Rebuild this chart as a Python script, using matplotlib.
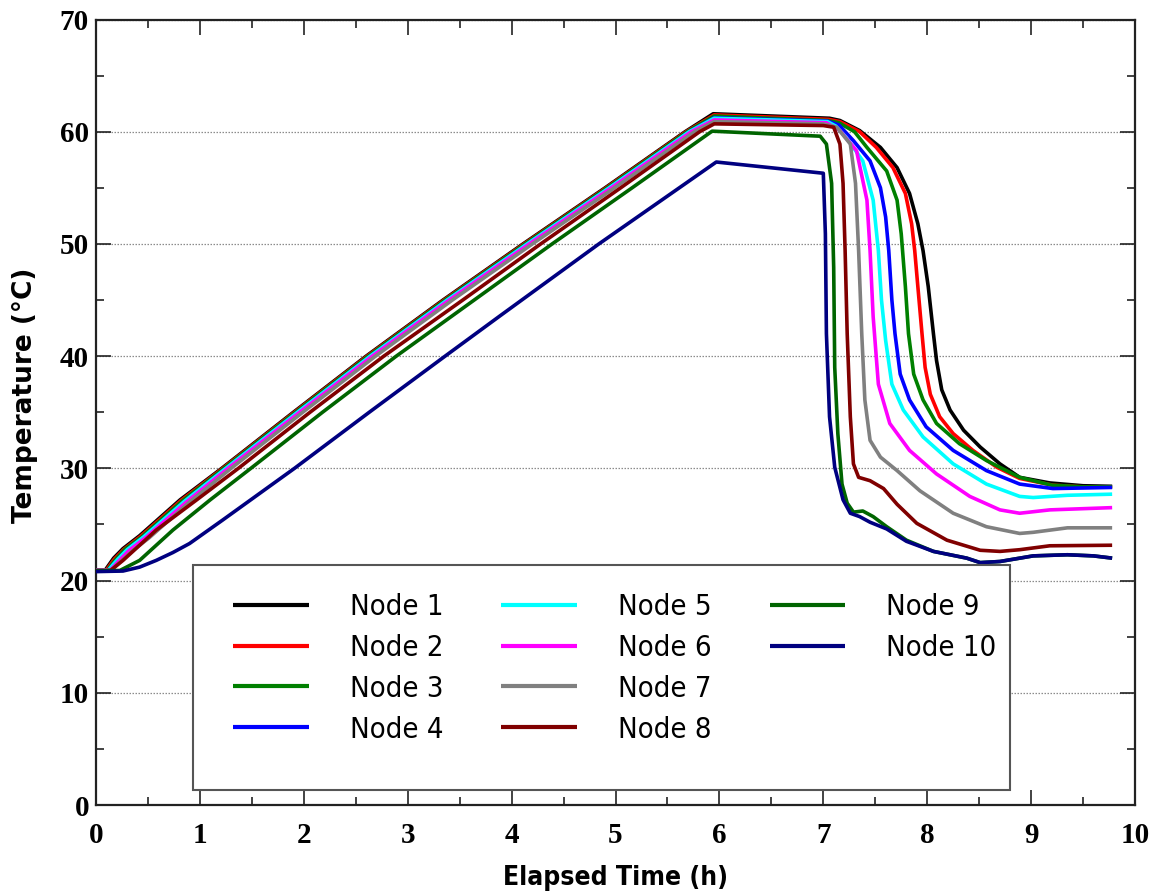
import matplotlib
matplotlib.use("Agg")
import matplotlib.pyplot as plt
from matplotlib.patches import Rectangle
from matplotlib.lines import Line2D
from matplotlib.ticker import MultipleLocator
from matplotlib import font_manager as fm

# ---------------- data (hours, degC) ----------------
node_labels = ["Node 1", "Node 2", "Node 3", "Node 4", "Node 5",
               "Node 6", "Node 7", "Node 8", "Node 9", "Node 10"]
node_colors = ["#000000", "#ff0000", "#008000", "#0000ff", "#00ffff",
               "#ff00ff", "#808080", "#800000", "#006400", "#000080"]

t1 = [0, 0.09, 0.17, 0.26, 0.42, 0.81, 1.21, 1.90, 2.60, 3.34, 4.11, 4.90, 5.67, 5.94,
      7.06, 7.16, 7.35, 7.55, 7.71, 7.83, 7.91, 7.96, 8.01, 8.06, 8.09, 8.14, 8.22,
      8.35, 8.51, 8.70, 8.89, 9.18, 9.50, 9.78]
T1 = [20.9, 20.95, 22.0, 22.85, 24.0, 27.2, 30.0, 35.0, 40.0, 45.0, 50.0, 55.0, 60.0, 61.6,
      61.2, 61.0, 60.1, 58.6, 56.8, 54.5, 51.8, 49.4, 46.2, 42.0, 39.6, 37.0, 35.2,
      33.4, 31.9, 30.4, 29.2, 28.7, 28.45, 28.4]

t2 = [0, 0.10, 0.18, 0.27, 0.43, 0.82, 1.22, 1.91, 2.61, 3.35, 4.12, 4.91, 5.68, 5.95,
      7.05, 7.16, 7.35, 7.51, 7.67, 7.79, 7.85, 7.88, 7.91, 7.95, 7.98, 8.03, 8.12,
      8.25, 8.44, 8.67, 8.89, 9.21, 9.50, 9.78]
T2 = [20.9, 20.95, 21.95, 22.8, 23.95, 27.15, 30.0, 35.0, 40.0, 45.0, 50.0, 55.0, 60.0, 61.5,
      61.1, 60.9, 60.0, 58.6, 56.8, 54.5, 51.8, 49.4, 46.2, 42.0, 39.0, 36.6, 34.6,
      33.1, 31.6, 30.1, 29.1, 28.5, 28.35, 28.35]

t3 = [0, 0.11, 0.19, 0.28, 0.44, 0.83, 1.23, 1.92, 2.62, 3.36, 4.13, 4.92, 5.69, 5.95,
      7.04, 7.15, 7.30, 7.42, 7.61, 7.71, 7.75, 7.79, 7.82, 7.87, 7.96, 8.09, 8.31,
      8.57, 8.89, 9.20, 9.50, 9.78]
T3 = [20.9, 20.95, 21.9, 22.8, 23.9, 27.1, 30.0, 35.0, 40.0, 45.0, 50.0, 55.0, 60.0, 61.4,
      61.0, 60.8, 60.0, 58.6, 56.5, 53.9, 50.9, 46.2, 42.0, 38.4, 36.1, 34.0, 32.2,
      30.7, 29.2, 28.5, 28.35, 28.35]

t4 = [0, 0.12, 0.21, 0.30, 0.46, 0.85, 1.25, 1.94, 2.64, 3.38, 4.15, 4.94, 5.71, 5.95,
      7.04, 7.15, 7.29, 7.45, 7.55, 7.60, 7.63, 7.66, 7.69, 7.74, 7.83, 7.99, 8.25,
      8.57, 8.89, 9.21, 9.50, 9.78]
T4 = [20.9, 20.95, 21.9, 22.75, 23.9, 27.05, 30.0, 35.0, 40.0, 45.0, 50.0, 55.0, 60.0, 61.25,
      60.95, 60.6, 59.2, 57.4, 55.0, 52.4, 49.4, 45.0, 42.0, 38.4, 36.1, 33.7, 31.6,
      29.8, 28.6, 28.2, 28.25, 28.3]

t5 = [0, 0.12, 0.21, 0.30, 0.46, 0.85, 1.25, 1.94, 2.64, 3.38, 4.15, 4.94, 5.71, 5.95,
      7.04, 7.12, 7.22, 7.38, 7.48, 7.53, 7.56, 7.60, 7.66, 7.77, 7.96, 8.25, 8.57,
      8.89, 9.02, 9.35, 9.78]
T5 = [20.9, 20.95, 21.9, 22.75, 23.9, 27.05, 30.0, 35.0, 40.0, 45.0, 50.0, 55.0, 60.0, 61.2,
      60.9, 60.5, 59.5, 57.4, 53.9, 49.4, 45.0, 41.4, 37.5, 35.2, 32.8, 30.4, 28.6,
      27.5, 27.4, 27.6, 27.7]

t6 = [0, 0.14, 0.23, 0.32, 0.48, 0.87, 1.27, 1.96, 2.66, 3.40, 4.17, 4.96, 5.73, 5.95,
      7.03, 7.16, 7.32, 7.42, 7.45, 7.48, 7.53, 7.64, 7.83, 8.09, 8.41, 8.70, 8.89,
      9.18, 9.78]
T6 = [20.9, 20.95, 21.85, 22.7, 23.85, 27.0, 30.0, 35.0, 40.0, 45.0, 50.0, 55.0, 60.0, 61.05,
      60.8, 60.1, 58.3, 53.9, 49.4, 43.5, 37.5, 34.0, 31.6, 29.5, 27.5, 26.3, 26.0,
      26.3, 26.5]

t7 = [0, 0.15, 0.25, 0.35, 0.51, 0.90, 1.30, 1.99, 2.69, 3.43, 4.20, 4.99, 5.76, 5.95,
      7.00, 7.13, 7.26, 7.31, 7.34, 7.37, 7.40, 7.45, 7.55, 7.71, 7.93, 8.25, 8.57,
      8.89, 9.02, 9.35, 9.78]
T7 = [20.9, 20.95, 21.8, 22.65, 23.8, 27.0, 30.0, 35.0, 40.0, 45.0, 50.0, 55.0, 60.0, 60.9,
      60.7, 60.4, 58.9, 55.4, 49.4, 42.0, 36.1, 32.5, 31.0, 29.8, 28.0, 26.0, 24.8,
      24.2, 24.3, 24.7, 24.7]

t8 = [0, 0.14, 0.26, 0.58, 0.97, 1.37, 2.06, 2.77, 3.53, 4.28, 5.05, 5.81, 5.95,
      7.00, 7.10, 7.16, 7.19, 7.21, 7.23, 7.26, 7.29, 7.34, 7.45, 7.58, 7.71, 7.90,
      8.19, 8.51, 8.70, 8.89, 9.18, 9.78]
T8 = [20.9, 20.9, 21.8, 24.5, 27.2, 30.0, 35.0, 40.0, 45.0, 50.0, 55.0, 60.0, 60.7,
      60.55, 60.4, 58.9, 55.4, 49.4, 42.0, 34.6, 30.4, 29.2, 28.9, 28.2, 26.8, 25.1,
      23.6, 22.7, 22.6, 22.75, 23.1, 23.15]

t9 = [0, 0.23, 0.42, 0.74, 1.10, 1.49, 2.18, 2.89, 3.64, 4.39, 5.16, 5.93,
      6.97, 7.03, 7.08, 7.10, 7.11, 7.14, 7.18, 7.23, 7.29, 7.38, 7.48, 7.61, 7.80,
      8.06, 8.38, 8.51, 8.70, 9.02, 9.35, 9.60, 9.78]
T9 = [20.85, 20.9, 21.8, 24.5, 27.2, 30.0, 35.0, 40.0, 45.0, 50.0, 55.0, 60.05,
      59.6, 58.9, 55.4, 47.9, 39.0, 33.1, 28.6, 26.9, 26.1, 26.2, 25.7, 24.8, 23.6,
      22.6, 22.0, 21.6, 21.7, 22.2, 22.3, 22.2, 22.0]

t10 = [0, 0.26, 0.42, 0.58, 0.74, 0.90, 1.22, 1.55, 1.91, 2.63, 3.36, 3.89, 4.84, 5.97,
       7.00, 7.02, 7.03, 7.06, 7.11, 7.19, 7.26, 7.35, 7.45, 7.61, 7.80, 8.06, 8.38,
       8.51, 8.70, 9.02, 9.35, 9.60, 9.78]
T10 = [20.8, 20.85, 21.2, 21.8, 22.5, 23.3, 25.4, 27.6, 30.0, 35.0, 40.0, 43.6, 50.0, 57.3,
       56.3, 50.9, 42.0, 34.6, 30.1, 27.2, 26.0, 25.7, 25.2, 24.6, 23.5, 22.6, 22.0,
       21.6, 21.7, 22.2, 22.3, 22.2, 22.0]

times = [t1, t2, t3, t4, t5, t6, t7, t8, t9, t10]
temps = [T1, T2, T3, T4, T5, T6, T7, T8, T9, T10]

x_ticks = list(range(0, 11))
y_ticks = list(range(0, 71, 10))


def condensed_available(weight):
    try:
        p = fm.findfont(fm.FontProperties(family="DejaVu Sans", weight=weight,
                                          stretch="condensed"),
                        fallback_to_default=False)
        return "ondensed" in p
    except Exception:
        return False


COND_B = condensed_available("bold")
COND_R = condensed_available("normal")

# ---------------- figure ----------------
W, H = 1161, 894
fig = plt.figure(figsize=(W / 100, H / 100), dpi=100)
fig.patch.set_facecolor("white")
ax = fig.add_axes([96 / W, 1 - 805 / H, (1135 - 96) / W, (805 - 19.5) / H])

lines = []
for tt, TT, col, lab in zip(times, temps, node_colors, node_labels):
    ln, = ax.plot(tt, TT, color=col, lw=2.6, label=lab, solid_joinstyle="round",
                  solid_capstyle="butt", zorder=3)
    lines.append(ln)

ax.set_xlim(0, 10)
ax.set_ylim(0, 70)
ax.set_xticks(x_ticks)
ax.set_yticks(y_ticks)
ax.xaxis.set_minor_locator(MultipleLocator(0.5))
ax.yaxis.set_minor_locator(MultipleLocator(5))

ax.grid(axis="y", which="major", color="#8c8c8c", linestyle=(0, (1.2, 1.2)), lw=0.9)
ax.set_axisbelow(True)

ax.tick_params(axis="both", which="both", direction="in", top=True, right=True,
               color="#222222")
ax.tick_params(which="major", length=10.5, width=1.2)
ax.tick_params(which="minor", length=5.5, width=1.2)
ax.tick_params(axis="x", which="major", pad=12)
ax.tick_params(axis="y", which="major", pad=5)
for sp in ax.spines.values():
    sp.set_linewidth(1.6)
    sp.set_color("#222222")

tick_font = dict(family=["Liberation Serif", "DejaVu Serif"], weight="bold", size=21)
ax.set_xticklabels([str(v) for v in x_ticks], fontdict=tick_font)
ax.set_yticklabels([str(v) for v in y_ticks], fontdict=tick_font)

if COND_B:
    fig.text(615.5 / W, 1 - 878 / H, "Elapsed Time (h)", ha="center", va="center",
             family="DejaVu Sans", stretch="condensed", weight="bold", size=19)
else:
    fig.text(615.5 / W, 1 - 878 / H, "Elapsed Time (h)", ha="center", va="center",
             family="DejaVu Sans", weight="bold", size=17)
fig.text(25 / W, 1 - 395 / H, "Temperature (°C)", ha="center", va="center",
         rotation=90, family=["DejaVu Sans"], weight="bold", size=19)

# legend box
box = Rectangle(((193 - 96) / 1039, (805 - 790) / 785.5), (1010 - 193) / 1039,
                (790 - 565) / 785.5, transform=ax.transAxes, facecolor="white",
                edgecolor="#555555", lw=1.5, zorder=4)
ax.add_patch(box)

blank = Line2D([], [], color="none")
handles = lines + [blank, blank]
labels = node_labels + ["", ""]
if COND_R:
    lprop = fm.FontProperties(family="DejaVu Sans", stretch="condensed", size=21)
    lkw = dict(handlelength=2.6, handletextpad=1.4, columnspacing=1.99,
               labelspacing=0.44)
    anchor_y = 593
else:
    lprop = fm.FontProperties(family="DejaVu Sans", size=19)
    lkw = dict(handlelength=2.85, handletextpad=1.55, columnspacing=2.15,
               labelspacing=0.56)
    anchor_y = 594
leg = ax.legend(handles, labels, ncol=3, loc="upper left",
                bbox_to_anchor=(233 / W, 1 - anchor_y / H), bbox_transform=fig.transFigure,
                frameon=False, borderpad=0, borderaxespad=0, prop=lprop, **lkw)
leg.set_zorder(5)
for lh in leg.get_lines()[:10]:
    lh.set_linewidth(3)

fig.savefig("out.png", dpi=100, facecolor="white")
